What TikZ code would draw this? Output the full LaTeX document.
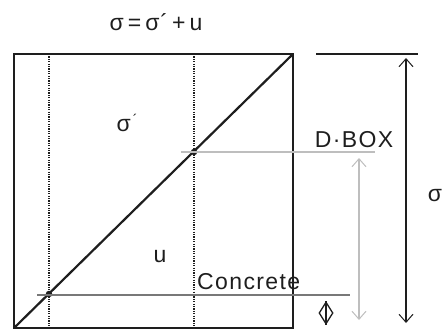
\documentclass[tikz,border=0pt]{standalone}
\usepackage{fontspec}
\setmainfont{Liberation Sans}
\usetikzlibrary{arrows.meta,shapes.geometric}
\definecolor{boxgray}{RGB}{30,30,30}
\definecolor{lightline}{RGB}{190,190,190}
\definecolor{midline}{RGB}{120,120,120}

\begin{document}
\begin{tikzpicture}[x=1pt, y=-1pt, >={Straight Barb[length=8pt,width=14pt,line width=1pt]},
  every node/.style={font=\fontsize{23}{27}\selectfont, inner sep=0pt, text=boxgray},
  spaced/.style={font=\fontsize{23}{27}\selectfont\addfontfeature{LetterSpace=6}},
  wall/.style={draw=boxgray, line width=2.2pt},
  probe/.style={draw=boxgray, line width=1.7pt, dash pattern=on 1.2pt off 1.2pt},
  pt/.style={circle, fill=boxgray, minimum size=6.5pt}]
  \useasboundingbox (0,0) rectangle (444,329);
  % corners of the box
  \coordinate (tl) at (14,54);  \coordinate (tr) at (293,54);
  \coordinate (bl) at (14,328); \coordinate (br) at (293,328);
  \coordinate (p1t) at (49,54);  \coordinate (p1b) at (49,328);
  \coordinate (p2t) at (194,54); \coordinate (p2b) at (194,328);
  % box, diagonal, probes
  \draw[wall] (tl) rectangle (br);
  \draw[wall] (bl) -- (tr);
  \draw[probe] (p1t) -- (p1b);
  \draw[probe] (p2t) -- (p2b);
  \node[pt] (dbox) at (194,152) {};
  \node[pt] (conc) at (49,294) {};
  % levels
  \coordinate (dboxL) at (181,152); \coordinate (dboxR) at (375,152);
  \coordinate (concL) at (37,295);  \coordinate (concR) at (350,295);
  \draw[lightline, line width=1.2pt] (dboxL) -- (dboxR);
  \draw[midline, line width=1.4pt] (concL) -- (concR);
  \coordinate (topL) at (316,54); \coordinate (topR) at (418,54);
  \draw[boxgray, line width=2.2pt] (topL) -- (topR);
  % dimension arrows
  \coordinate (sigT) at (406,58);  \coordinate (sigB) at (406,323);
  \coordinate (dbT) at (359,158);  \coordinate (dbB) at (359,320);
  \draw[<->, boxgray, line width=1.1pt] (sigT) -- (sigB);
  \draw[<->, lightline, line width=1.1pt] (dbT) -- (dbB);
  % labels
  \node[spaced] (eq) at (156,22) {σ\hspace{4pt}=\hspace{4pt}σ\hspace{1pt}´\hspace{4pt}+\hspace{4pt}u};
  \node (sp) at (127,123) {σ\hspace{2pt}\raisebox{7pt}{\fontsize{14}{14}\selectfont´}};
  \node (u) at (160,257) {u};
  \node[spaced] (dlab) at (354,140) {D·BOX};
  \node[spaced, anchor=base west] (clab) at (197,289) {Concrete};
  \node (sig) at (435,196) {σ};
  \node[diamond, draw=boxgray, line width=1.3pt, minimum width=14pt, minimum height=22pt] (phi) at (326,313) {};
  \draw[boxgray, line width=1.3pt] (phi.north) -- (phi.south);
\end{tikzpicture}
\end{document}
